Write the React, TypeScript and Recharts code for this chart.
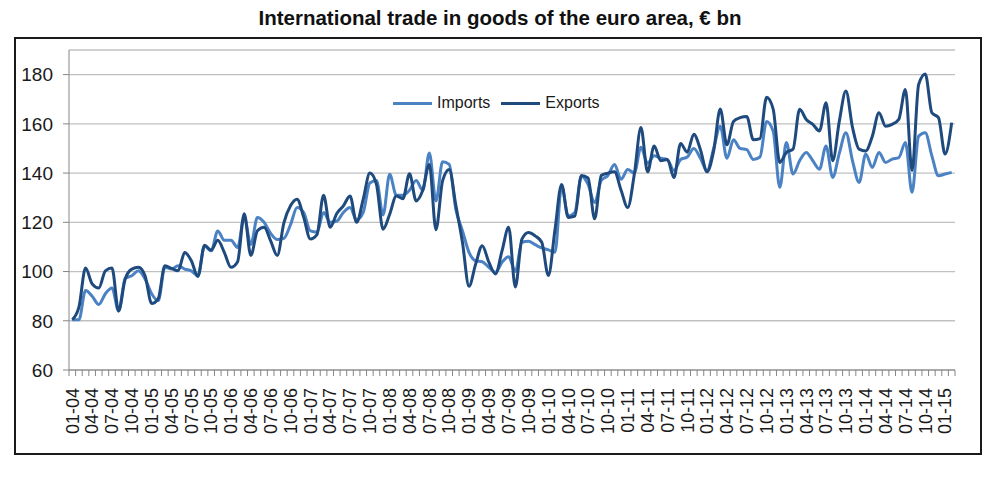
import { CartesianGrid, Legend, Line, LineChart, XAxis, YAxis } from 'recharts'

// Monthly, 01-04 to 02-15
const years = ['04', '05', '06', '07', '08', '09', '10', '11', '12', '13', '14', '15']
const monthNums = ['01', '02', '03', '04', '05', '06', '07', '08', '09', '10', '11', '12']
const categories = years.flatMap(y => monthNums.map(m => `${m}-${y}`)).slice(0, 134)

const imports = [
  80.4, 80.4, 92.3, 90, 86.6, 91, 93.3, 84, 97.2, 98.3, 100.3, 97,
  91, 88.2, 101.7, 101, 102.4, 101, 100.3, 98.3, 110.4, 108.4, 116.5, 112.7,
  112.7, 109.8, 122, 111, 122, 120, 115.5, 113, 113.5, 119, 126, 124,
  116.5, 116, 124, 120, 120.5, 124, 126, 121, 124, 136, 137, 123,
  139.5, 131, 131, 133, 137, 133, 148.2, 128.7, 144.6, 143.5, 125.3, 116.6,
  107.8, 104.4, 104, 101.7, 99.7, 103.8, 106, 100, 111.9, 112.3, 110.9, 109.6,
  108.8, 107.8, 134.7, 122.6, 124, 138.8, 135.4, 128, 137, 139, 143.5, 137.5,
  141.5, 140, 150.5, 144, 147, 146, 145.5, 141, 145.5, 146.5, 150, 146,
  141, 150, 159, 146, 153.5, 150, 149.5, 145.5, 146.5, 161, 157, 134.2,
  152.4, 139.6, 145, 148.4, 145, 141.6, 151, 138.2, 148, 156.4, 145, 136.2,
  147.7, 142.3, 148.4, 144.3, 145.7, 146.3, 152.4, 132.2, 155, 156.4, 147, 138.9,
  139.6, 140.3,
]

const exports = [
  80.4, 85.5, 101.4, 95, 93.3, 100.3, 101.4, 84, 97, 101, 101.7, 98.3,
  87, 89, 102.4, 101.3, 100.3, 107.7, 104.4, 98, 110.7, 108.7, 112.7, 107.7,
  101.7, 104, 123.5, 106.5, 116.6, 118, 112.5, 106.5, 119.8, 126.7, 129.4, 122,
  113.2, 115, 131, 118, 123.6, 126.7, 130.7, 120, 129.4, 140, 135.4, 117.2,
  123.3, 130.7, 129.6, 139.7, 128.7, 133, 143.5, 117, 136.8, 141.5, 127, 112,
  94, 103, 110.5, 103.8, 99, 108.5, 118, 93.7, 113.2, 115.9, 114.5, 111.9,
  98.4, 117, 135.4, 122, 122.5, 139, 138, 121.4, 139, 140, 140.5, 133,
  126, 139.5, 158.5, 140.5, 151, 145, 145.5, 138.2, 152, 148.5, 155.8, 149.5,
  140.5, 149, 166, 151.5, 161, 162.5, 163, 153.5, 154, 170.8, 166, 144.3,
  148.4, 149.7, 165.9, 161.8, 159.8, 157.1, 168.6, 145, 161, 173.3, 158.5, 149.7,
  149, 155, 164.5, 159, 159.8, 161.8, 174, 141, 176, 180.3, 164.5, 162.5,
  147.7, 160.5,
]

const seriesOrder = ['Imports', 'Exports']
const yTicks = [60, 80, 100, 120, 140, 160, 180]

const data = categories.map((month, i) => ({
  month,
  imports: imports[i],
  exports: exports[i],
}))

const AXIS = '#868686'
const GRID = '#c0c0c0'
const TEXT = '#1a1a1a'
const PLOT_W = 886
const band = PLOT_W / categories.length

type TickProps = { x?: number; y?: number; index?: number; payload?: { value: string } }

function MonthTick({ x = 0, y = 0, index = 0, payload }: TickProps) {
  const half = band / 2
  return (
    <g>
      <line x1={x - half} x2={x - half} y1={y} y2={y + 6} stroke={AXIS} />
      {index === categories.length - 1 && (
        <line x1={x + half} x2={x + half} y1={y} y2={y + 6} stroke={AXIS} />
      )}
      {index % 3 === 0 && (
        <text
          transform={`translate(${x},${y + 18}) rotate(-90)`}
          textAnchor="end"
          dy="0.35em"
          fontSize={18}
          fill={TEXT}
        >
          {payload?.value}
        </text>
      )}
    </g>
  )
}

type LegendEntry = { value: string; color: string }

function LegendContent({ payload }: { payload?: LegendEntry[] }) {
  const items = [...(payload ?? [])].sort(
    (a, b) => seriesOrder.indexOf(a.value) - seriesOrder.indexOf(b.value),
  )
  return (
    <div style={{ display: 'flex', alignItems: 'center', gap: 11, fontSize: 16, color: TEXT, lineHeight: '20px' }}>
      {items.map(entry => (
        <span key={entry.value} style={{ display: 'flex', alignItems: 'center' }}>
          <span
            style={{ display: 'inline-block', width: 39, height: 3, background: entry.color, marginRight: 5 }}
          />
          {entry.value}
        </span>
      ))}
    </div>
  )
}

export default function App() {
  return (
    <div
      style={{
        position: 'absolute',
        left: 0,
        top: 0,
        width: 1000,
        height: 482,
        background: '#fff',
        fontFamily: '"Liberation Sans", Arial, sans-serif',
      }}
    >
      <div
        style={{
          position: 'absolute',
          left: 0,
          top: 6,
          width: 1000,
          textAlign: 'center',
          fontWeight: 'bold',
          fontSize: 20.5,
          color: '#111',
        }}
      >
        International trade in goods of the euro area, € bn
      </div>
      <div
        style={{
          position: 'absolute',
          left: 14,
          top: 37,
          width: 964,
          height: 414,
          border: '2px solid #1a1a1a',
        }}
      />
      <div style={{ position: 'absolute', left: 0, top: 0 }}>
        <LineChart width={1000} height={482} data={data} margin={{ top: 50, right: 45, bottom: 52, left: 19 }}>
          <CartesianGrid horizontal vertical={false} stroke={GRID} strokeWidth={1.3} />
          <XAxis
            dataKey="month"
            scale="band"
            interval={0}
            height={60}
            tickLine={false}
            tickSize={0}
            tickMargin={0}
            axisLine={{ stroke: AXIS }}
            tick={<MonthTick />}
          />
          <YAxis
            domain={[60, 190]}
            ticks={yTicks}
            width={50}
            tickSize={6}
            tickMargin={10}
            axisLine={{ stroke: AXIS }}
            tickLine={{ stroke: AXIS }}
            tick={{ fontSize: 19, fill: TEXT }}
          />
          <Legend
            layout="horizontal"
            verticalAlign="middle"
            align="center"
            wrapperStyle={{ top: 93, left: 393, width: 'auto', height: 20 }}
            content={<LegendContent />}
          />
          <Line
            name="Imports"
            dataKey="imports"
            type="monotone"
            stroke="#4a82c3"
            strokeWidth={3}
            dot={false}
            activeDot={false}
            isAnimationActive={false}
          />
          <Line
            name="Exports"
            dataKey="exports"
            type="monotone"
            stroke="#1f4a7e"
            strokeWidth={3}
            dot={false}
            activeDot={false}
            isAnimationActive={false}
          />
        </LineChart>
      </div>
    </div>
  )
}
